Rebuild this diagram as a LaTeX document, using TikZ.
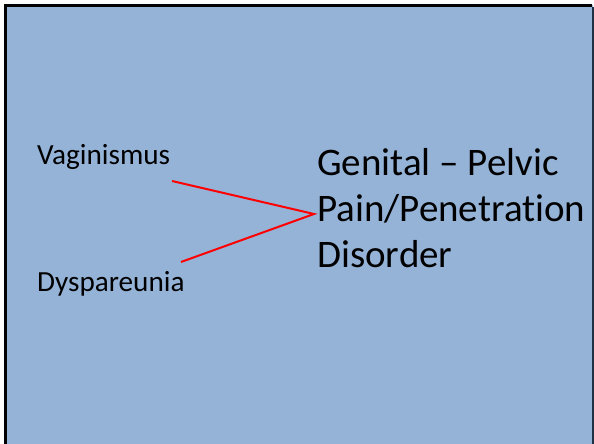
\documentclass[tikz,border=0pt]{standalone}
\usepackage{fontspec}
\newfontfamily\calibri[Ligatures=NoCommon]{Carlito}
\definecolor{slidebg}{HTML}{95B3D7}
\definecolor{edgenavy}{HTML}{1F3045}
\tikzset{
  smalltxt/.style={anchor=base west, inner sep=0pt, font=\calibri\fontsize{29.2}{34}\selectfont},
  bigtxt/.style={anchor=base west, inner sep=0pt, font=\calibri\fontsize{39}{46}\selectfont},
  redline/.style={draw=red, line width=2pt}
}
\begin{document}
\begin{tikzpicture}[x=1pt,y=1pt]
\useasboundingbox (0,0) rectangle (594,444);
\fill[white] (0,0) rectangle (594,444);
\fill[slidebg] (5.5,0) rectangle (593,438.5);
\draw[black, line width=3.5pt] (5.5,0) -- (5.5,438.5) -- (592,438.5);
\draw[edgenavy, line width=1.5pt] (593,0) -- (593,437);
\node[smalltxt] (vag) at (37,279) {Vaginismus};
\node[smalltxt] (dys) at (37,152) {Dyspareunia};
\node[bigtxt] (l1) at (317,268) {Genital – Pelvic};
\node[bigtxt] (l2) at (317,222) {Pain/Penetration};
\node[bigtxt] (l3) at (317,176) {Disorder};
\coordinate (v) at (172,263);
\coordinate (d) at (181,182);
\coordinate (apex) at (314,230);
\draw[redline] (v) -- (apex) -- (d);
\end{tikzpicture}
\end{document}
